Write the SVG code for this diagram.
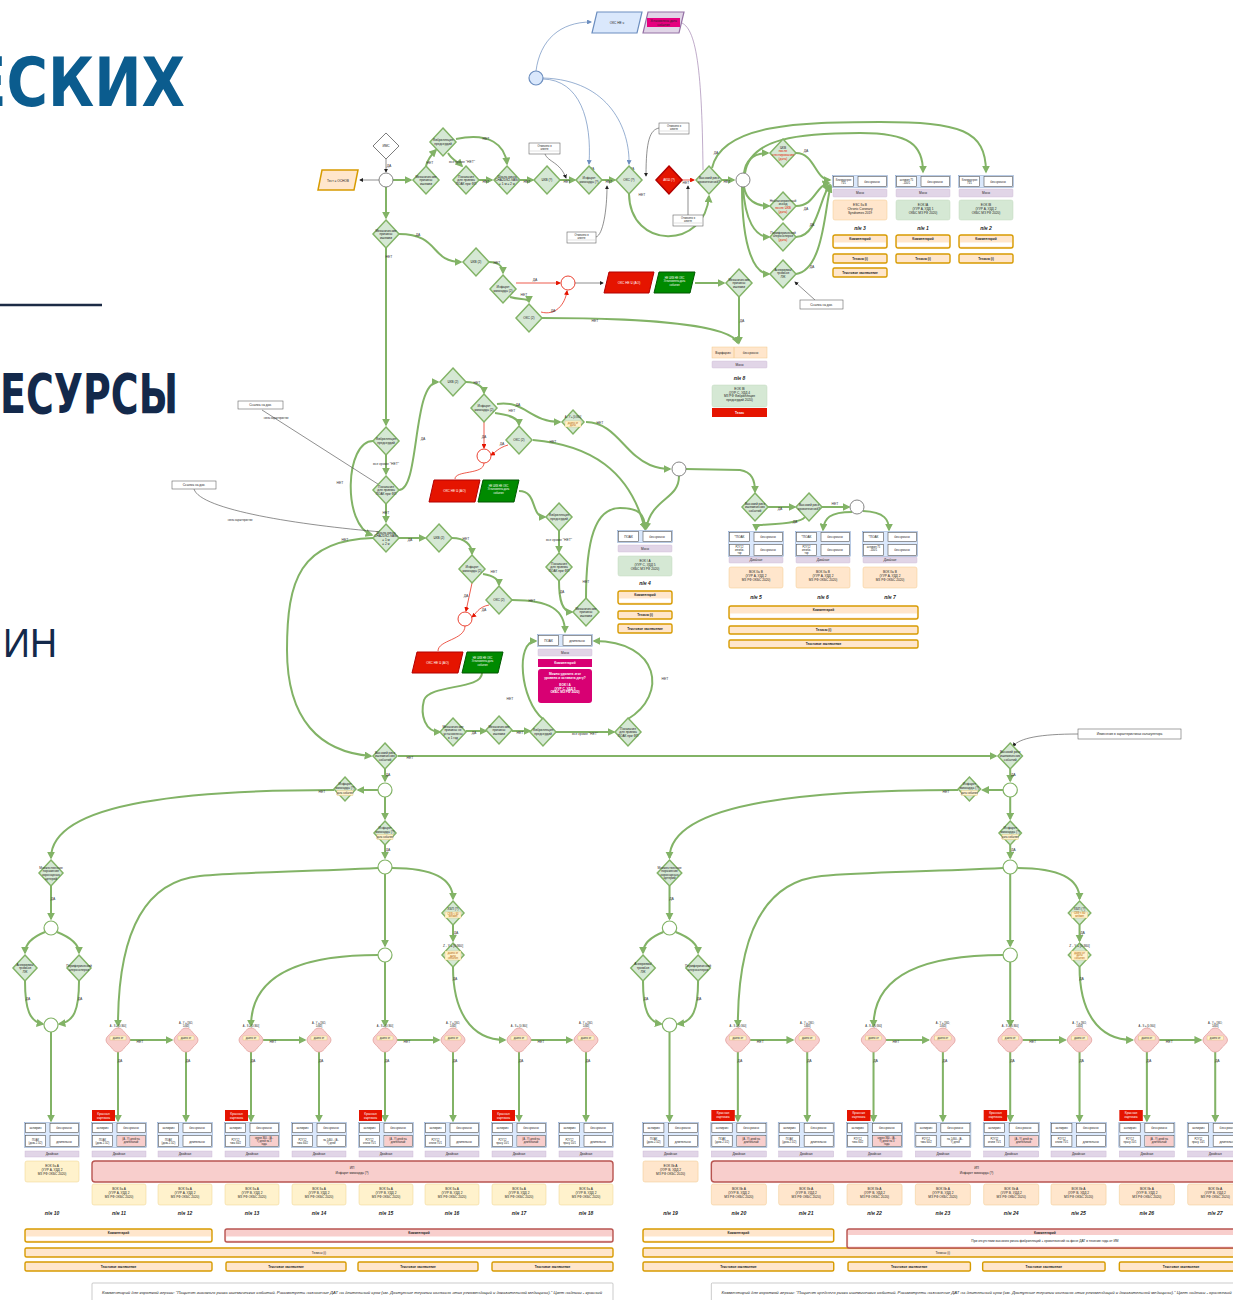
<svg xmlns="http://www.w3.org/2000/svg" xmlns:xlink="http://www.w3.org/1999/xlink" width="1233" height="1300" viewBox="0 0 1233 1300">
<style>
.e{fill:none;stroke:#82b366;stroke-width:2;marker-end:url(#ag)}
.k{fill:none;stroke:#444;stroke-width:0.6;marker-end:url(#ak)}
.r{fill:none;stroke:#e51400;stroke-width:0.7;marker-end:url(#ar)}
.rn{fill:none;stroke:#e51400;stroke-width:0.7}
.b{fill:none;stroke:#6c8ebf;stroke-width:0.7;marker-end:url(#ab)}
.d{fill:#d5e8d4;stroke:#82b366;stroke-width:1.5}
.dr{fill:#e51400;stroke:#b20000;stroke-width:1.5}
.dw{fill:#fff;stroke:#777;stroke-width:1}
.ci{fill:#fff;stroke:#777;stroke-width:0.9}
.cg{fill:#fff;stroke:#82b366;stroke-width:1.2}
.cr{fill:#fff;stroke:#e51400;stroke-width:0.8}
.pk{fill:#f8cecc;stroke:#e3a3a0;stroke-width:0.8;stroke-linejoin:round}
.t{font-family:"Liberation Sans",Arial,sans-serif;font-size:3.2px;fill:#222;text-anchor:middle}
.s{font-size:2.6px}
.w{fill:#fff}
.rd{fill:#e51400}
.bd{font-weight:bold}
.l{font-family:"Liberation Sans",Arial,sans-serif;font-size:3.4px;fill:#333;text-anchor:middle}
.pn{font-family:"Liberation Sans",Arial,sans-serif;font-size:5px;font-weight:bold;font-style:italic;fill:#222;text-anchor:middle}
.cell{fill:#fff;stroke:#555;stroke-width:0.6}
.hb{fill:#dae8fc;stroke:#6c8ebf;stroke-width:0.4}
.pu{fill:#e1d5e7;stroke:#c9b5d4;stroke-width:0.4}
.or{fill:#ffe6cc;stroke:#d79b00;stroke-width:1.4}
.orl{fill:#ffe6cc;stroke:#f2c98c;stroke-width:0.5}
.ye{fill:#fff2cc;stroke:#ecd08a;stroke-width:0.5}
.gr{fill:#d5e8d4;stroke:#c2dbbf;stroke-width:0.5}
.pb{fill:#f8cecc;stroke:#b85450;stroke-width:1.4}
.nt{fill:#fff;stroke:#666;stroke-width:0.6}
.yl{fill:#fff2cc;stroke:#d6b656;stroke-width:0.3}
</style>
<defs>
  <marker id="ag" viewBox="0 0 10 10" refX="8" refY="5" markerWidth="4" markerHeight="4" orient="auto"><path d="M0,0L10,5L0,10z" fill="#82b366"/></marker>
  <marker id="ak" viewBox="0 0 10 10" refX="8" refY="5" markerWidth="7" markerHeight="7" orient="auto"><path d="M0,0L10,5L0,10z" fill="#222"/></marker>
  <marker id="ar" viewBox="0 0 10 10" refX="8" refY="5" markerWidth="7" markerHeight="7" orient="auto"><path d="M0,0L10,5L0,10z" fill="#e51400"/></marker>
  <marker id="ab" viewBox="0 0 10 10" refX="8" refY="5" markerWidth="7" markerHeight="7" orient="auto"><path d="M0,0L10,5L0,10z" fill="#6c8ebf"/></marker>
  <polygon id="dm" points="0,-14 13,0 0,14 -13,0"/>
  <polygon id="dm2" points="0,-13 12,0 0,13 -12,0"/>
  <polygon id="dm3" points="0,-12 11,0 0,12 -11,0"/>
  <path id="pkd" d="M-12,0 C-12,-3 -9,-5 -7,-7 C-5,-10 -3,-12 0,-12 C3,-12 5,-10 7,-7 C9,-5 12,-3 12,0 C12,3 9,5 7,7 C5,10 3,12 0,12 C-3,12 -5,10 -7,7 C-9,5 -12,3 -12,0 z"/>
  <g id="hdr1">
    <rect class="hb" x="-0.5" y="-0.5" width="55" height="12"/>
    <rect class="cell" x="0.5" y="0.5" width="20" height="10"/>
    <rect class="cell" x="25" y="0.5" width="28.5" height="10"/>
  </g>
  <g id="hdr2">
    <rect class="hb" x="-0.5" y="-0.5" width="55" height="25"/>
    <rect class="cell" x="0.5" y="0.5" width="20" height="9"/>
    <rect class="cell" x="25" y="0.5" width="28.5" height="9"/>
    <rect class="cell" x="0.5" y="12.5" width="20" height="11"/>
    <rect class="cell" x="25" y="12.5" width="28.5" height="11"/>
  </g>
  <g id="cmt">
    <rect class="or" x="0" y="0" width="54" height="13" rx="2"/>
    <rect x="1.2" y="7.5" width="51.6" height="4" fill="#fff"/>
    <text class="t bd" x="27" y="5">Комментарий</text>
  </g>
</defs>

<!-- heading fragments -->
<g id="heading">
  <text x="-32" y="106" font-family="DejaVu Sans" font-weight="bold" font-size="67" fill="#0b5c8e" textLength="217" lengthAdjust="spacingAndGlyphs">ЕСКИХ</text>
  <line x1="0" y1="305" x2="102" y2="305" stroke="#1c2b45" stroke-width="2.5"/>
  <text x="0" y="413" font-family="DejaVu Sans" font-weight="bold" font-size="56" fill="#13294b" textLength="178" lengthAdjust="spacingAndGlyphs">ЕСУРСЫ</text>
  <text x="3" y="657" font-family="Liberation Sans" font-size="40" fill="#13294b" textLength="54" lengthAdjust="spacingAndGlyphs">ИН</text>
</g>

<!-- connectors of the upper flow -->
<g id="connectors">
  <path class="b" d="M536,71 C540,40 560,22 591,22"/>
  <path class="b" d="M543,79 C580,80 592,120 589,164"/>
  <path class="b" d="M543,78 C610,80 630,130 629,164"/>
  <path d="M679,22 C695,25 702,60 703,170" fill="none" stroke="#9673a6" stroke-width="0.6"/>
  <text class="l" x="592" y="170">ДА</text><text class="l" x="632" y="170">ДА</text>

  <path class="k" d="M386,159 L386,172"/><text class="l" x="389" y="167">ДА</text>
  <path class="k" d="M379,180 L360,180"/>
  <path class="e" d="M393,180 L411,180"/>
  <path class="e" d="M386,187 L386,218"/>
  <path class="e" d="M426,166 C428,158 432,154 436,150"/><text class="l" x="430" y="164">НЕТ</text>
  <path class="e" d="M456,139 C490,132 505,145 507,164"/><text class="l" x="486" y="140">НЕТ</text>
  <path class="e" d="M448,153 C452,160 458,162 462,166"/><text class="l" x="462" y="163">все кроме "НЕТ"</text>
  <path class="e" d="M479,180 L492,180"/><text class="l" x="486" y="183">НЕТ</text>
  <path class="e" d="M520,180 L533,180"/><text class="l" x="527" y="183">НЕТ</text>
  <path class="e" d="M560,180 L575,180"/><text class="l" x="567" y="183">НЕТ</text>
  <path class="e" d="M602,180 L615,180"/><text class="l" x="609" y="183">НЕТ</text>
  <path class="e" d="M629,194 C630,250 705,250 709,196"/><text class="l" x="642" y="196">НЕТ</text>
  <path class="r" d="M682,180 L694,180"/><text class="l" x="686" y="184">НЕТ</text>
  <path class="e" d="M722,180 L734,180"/><text class="l" x="727" y="183">НЕТ</text>
  <path class="e" d="M712,168 C722,124 800,122 880,122 C960,122 986,130 986,172"/><text class="l" x="716" y="154">ДА</text>
  <path class="e" d="M745,173 C750,138 800,133 860,133 C910,133 923,145 923,172"/>
  <path class="e" d="M744,173 C746,158 756,153 768,153"/>
  <path class="e" d="M744,187 C746,200 756,206 769,206"/>
  <path class="e" d="M743,187 C745,220 755,237 769,237"/>
  <path class="e" d="M742,187 C742,250 755,274 769,274"/>
  <path class="e" d="M796,153 C815,153 815,180 830,180"/><text class="l" x="806" y="152">ДА</text>
  <path class="e" d="M796,206 C815,206 815,186 829,183"/><text class="l" x="806" y="210">ДА</text>
  <path class="e" d="M796,237 C818,237 820,195 830,185"/><text class="l" x="812" y="226">ДА</text>
  <path class="e" d="M796,274 C825,270 825,200 831,186"/><text class="l" x="812" y="268">ДА</text>

  <!-- notes -->
  <path class="k" d="M545,154 C548,162 560,162 566,178"/>
  <path class="k" d="M659,128 C650,130 646,140 646,176"/>
  <path class="k" d="M596,237 C603,235 607,210 607,186"/>
  <path class="k" d="M688,215 L688,186"/>

  <path class="e" d="M399,234 C440,234 430,262 461,262"/><text class="l" x="418" y="236">ДА</text>
  <path class="e" d="M386,248 L386,425"/><text class="l" x="389" y="258">НЕТ</text>
  <path class="e" d="M489,262 C500,262 503,268 503,273"/><text class="l" x="497" y="264">НЕТ</text>
  <path class="r" d="M516,283 L560,283"/><text class="l" x="535" y="281">ДА</text>
  <path class="e" d="M510,297 C520,300 529,298 529,302"/><text class="l" x="524" y="296">НЕТ</text>
  <path class="r" d="M541,312 C555,316 565,305 567,291"/><text class="l" x="553" y="312">ДА</text>
  <path class="k" d="M575,283 L603,283"/>
  <path class="e" d="M695,283 L724,283"/>
  <path class="e" d="M739,297 L739,343"/><text class="l" x="742" y="322">ДА</text>
  <path class="e" d="M542,318 C650,318 730,325 738,343"/><text class="l" x="595" y="322">НЕТ</text>
  <path class="k" d="M815,300 L795,282"/>

  <path class="e" d="M386,455 L386,474"/><text class="l" x="386" y="465">все кроме "НЕТ"</text>
  <path class="e" d="M373,441 C345,441 342,525 372,535"/><text class="l" x="340" y="484">НЕТ</text>
  <path class="e" d="M399,490 C420,490 412,382 438,382"/><text class="l" x="423" y="440">ДА</text>
  <path class="e" d="M386,504 L386,522"/><text class="l" x="386" y="514">НЕТ</text>
  <path class="e" d="M466,382 C478,382 484,388 484,393"/><text class="l" x="477" y="384">НЕТ</text>
  <path class="e" d="M495,413 C510,415 519,418 519,425"/><text class="l" x="512" y="412">НЕТ</text>
  <path class="e" d="M497,404 C525,400 530,422 560,422"/><text class="l" x="518" y="406">ДА</text>
  <path class="r" d="M484,422 L484,448"/><text class="l" x="484" y="438">ДА</text>
  <path class="r" d="M508,445 C498,448 496,452 491,455"/><text class="l" x="502" y="445">ДА</text>
  <path class="rn" d="M484,463 C484,475 455,470 455,479"/>
  <path class="e" d="M519,491 C538,491 530,517 545,517"/>
  <path class="e" d="M559,531 L559,552"/><text class="l" x="559" y="541">все кроме "НЕТ"</text>
  <path class="e" d="M559,581 C559,600 562,612 572,612"/><text class="l" x="562" y="593">ДА</text>
  <path class="e" d="M586,599 C586,540 595,508 620,508 C640,508 645,515 645,529"/><text class="l" x="586" y="583">НЕТ</text>
  <path class="e" d="M533,440 C590,445 630,470 645,529"/><text class="l" x="553" y="443">НЕТ</text>
  <path class="e" d="M586,422 C615,422 625,455 650,465 C660,469 665,469 670,469"/><text class="l" x="600" y="424">НЕТ</text>
  <path class="e" d="M679,476 C679,500 652,497 646,529"/>
  <path class="e" d="M686,469 L740,470 C752,472 755,480 755,492"/>
  <path class="e" d="M768,507 L795,507"/><text class="l" x="780" y="510">ДА</text>
  <path class="e" d="M822,507 L849,507"/><text class="l" x="835" y="505">НЕТ</text>
  <path class="e" d="M805,517 C800,524 770,524 760,525 C757,526 756,528 756,530"/><text class="l" x="795" y="523">ДА</text>
  <path class="e" d="M852,512 C830,512 824,518 823,530"/>
  <path class="e" d="M863,511 C885,512 889,520 889,530"/>

  <path class="e" d="M399,538 L425,538"/><text class="l" x="410" y="541">ДА</text>
  <path class="e" d="M452,538 C465,538 472,545 472,554"/><text class="l" x="466" y="540">НЕТ</text>
  <path class="e" d="M483,574 C495,576 499,580 499,585"/><text class="l" x="494" y="573">НЕТ</text>
  <path class="r" d="M472,583 L466,611"/><text class="l" x="466" y="597">ДА</text>
  <path class="r" d="M489,605 C478,607 476,614 472,617"/><text class="l" x="484" y="611">ДА</text>
  <path class="rn" d="M465,626 C465,640 438,640 438,651"/>
  <path class="e" d="M512,600 C550,600 565,610 565,632"/><text class="l" x="532" y="602">НЕТ</text>
  <path class="e" d="M482,673 C482,690 430,684 424,700 C420,715 425,732 440,732"/>
  <path class="e" d="M466,731 L486,731"/><text class="l" x="474" y="734">ДА</text>
  <path class="e" d="M512,731 L530,731"/><text class="l" x="520" y="734">НЕТ</text>
  <path class="e" d="M556,732 L614,732"/><text class="l" x="585" y="735">все кроме "НЕТ"</text>
  <path class="e" d="M543,719 C520,700 515,641 536,641"/><text class="l" x="510" y="700">НЕТ</text>
  <path class="e" d="M628,719 C668,695 660,641 594,641"/><text class="l" x="665" y="680">НЕТ</text>
  <path class="e" d="M373,538 C300,540 287,580 287,650 C287,720 320,752 371,756"/><text class="l" x="345" y="541">НЕТ</text>
  <path class="k" d="M262,410 L381,486"/>
  <path class="k" d="M194,489 C200,510 300,525 382,532"/>

  <path class="e" d="M398,756 L996,756"/><text class="l" x="410" y="759">НЕТ</text>
  <path class="k" d="M1078,734 C1040,734 1020,738 1013,746"/>
</g>

<!-- upper flow nodes -->
<g id="n-ims"><use href="#dm" class="dw" x="386" y="146" transform="translate(386,146) scale(1,0.93) translate(-386,-146)"/><text class="t" x="386" y="147">ИМС</text></g>
<g id="n-c0"><circle class="ci" cx="386" cy="180" r="7"/></g>
<g id="n-test"><polygon points="322,170 358,170 354,190 318,190" fill="#ffe6cc" stroke="#d79b00" stroke-width="1.5"/><text class="t" x="338" y="181.5">Тест = ОСНОВ</text></g>
<g id="n-okc"><polygon points="597,12 642,12 637,33 592,33" fill="#dae8fc" stroke="#6c8ebf" stroke-width="1.2"/><text class="t" x="617" y="23.5">ОКС НЕ ч</text></g>
<g id="n-date"><polygon points="648,12 684,12 679,33 643,33" fill="#e1d5e7" stroke="#9673a6" stroke-width="1.2"/><rect x="647" y="18" width="33" height="9" fill="#e6007e"/><text class="t" x="663.5" y="21.5">Установлена дата</text><text class="t" x="663.5" y="25.5">события</text></g>
<g id="n-bc"><circle cx="536" cy="78" r="7" fill="#dae8fc" stroke="#6c8ebf" stroke-width="1.2"/></g>

<g id="n-d1"><use href="#dm" class="d" x="426" y="180"/><text class="t"><tspan x="426" y="177.5">Механические</tspan><tspan x="426" y="181.1">причины</tspan><tspan x="426" y="184.7">ишемии</tspan></text></g>
<g id="n-d2"><use href="#dm" class="d" x="443" y="142"/><text class="t"><tspan x="443" y="141.3">Фибрилляция</tspan><tspan x="443" y="144.9">предсердий</tspan></text></g>
<g id="n-d3"><use href="#dm" class="d" x="466" y="180"/><text class="t"><tspan x="466" y="177.5">Показания</tspan><tspan x="466" y="181.1">для приема</tspan><tspan x="466" y="184.7">ПОАК при ФП</tspan></text></g>
<g id="n-d4"><use href="#dm" class="d" x="507" y="180"/><text class="t"><tspan x="507" y="177.5">Шкала риска</tspan><tspan x="507" y="181.1">CHA2DS2-VASc</tspan><tspan x="507" y="184.7">≥ 1 м ≥ 2 ж</tspan></text></g>
<g id="n-d5"><use href="#dm" class="d" x="547" y="180"/><text class="t" x="547" y="181.1">ЧКВ (?)</text></g>
<g id="n-d6"><use href="#dm" class="d" x="589" y="180"/><text class="t"><tspan x="589" y="179.3">Инфаркт</tspan><tspan x="589" y="182.9">миокарда (?)</tspan></text></g>
<g id="n-d7"><use href="#dm" class="d" x="629" y="180"/><text class="t" x="629" y="181.1">ОКС (?)</text></g>
<g id="n-d8"><use href="#dm" class="dr" x="669" y="180"/><text class="t w" x="669" y="181.1">АКШ (?)</text></g>
<g id="n-d9"><use href="#dm" class="d" x="709" y="180"/><text class="t"><tspan x="709" y="179.3">Высокий риск</tspan><tspan x="709" y="182.9">кровотечений?</tspan></text></g>
<g id="n-c1"><circle class="ci" cx="743" cy="180" r="7"/></g>
<g id="n-d10"><use href="#dm" class="d" x="783" y="153"/><text class="t"><tspan x="783" y="148.7">ЧКВ</tspan><tspan x="783" y="152.3" class="rd">после</tspan><tspan x="783" y="155.9" class="rd">стентирования</tspan><tspan x="783" y="159.5" class="rd">(дата)</tspan></text></g>
<g id="n-d11"><use href="#dm" class="d" x="783" y="206"/><text class="t"><tspan x="783" y="201.7">Неблагоприятный</tspan><tspan x="783" y="205.3">исход</tspan><tspan x="783" y="208.9" class="rd">после ЧКВ</tspan><tspan x="783" y="212.5" class="rd">(дата)</tspan></text></g>
<g id="n-d12"><use href="#dm" class="d" x="783" y="237"/><text class="t"><tspan x="783" y="233.5">Периферический</tspan><tspan x="783" y="237.1">атеросклероз</tspan><tspan x="783" y="240.7" class="rd">(дата)</tspan></text></g>
<g id="n-d13"><use href="#dm" class="d" x="783" y="274"/><text class="t"><tspan x="783" y="270.5">Аневризма/</tspan><tspan x="783" y="274.1">тромбоз</tspan><tspan x="783" y="277.7">ЛЖ</tspan></text></g>

<g id="n-note1"><rect class="nt" x="529" y="143" width="31" height="11"/><line x1="530" y1="151" x2="559" y2="151" stroke="#999" stroke-width="0.3"/><text class="t s"><tspan x="544.5" y="146.5">Отмечено в</tspan><tspan x="544.5" y="149.5">анкете</tspan></text></g>
<g id="n-note2"><rect class="nt" x="659" y="123" width="30" height="11"/><line x1="660" y1="131" x2="688" y2="131" stroke="#999" stroke-width="0.3"/><text class="t s"><tspan x="674" y="126.5">Отмечено в</tspan><tspan x="674" y="129.5">анкете</tspan></text></g>
<g id="n-note3"><rect class="nt" x="567" y="232" width="29" height="11"/><line x1="568" y1="240" x2="595" y2="240" stroke="#999" stroke-width="0.3"/><text class="t s"><tspan x="581.5" y="235.5">Отмечено в</tspan><tspan x="581.5" y="238.5">анкете</tspan></text></g>
<g id="n-note4"><rect class="nt" x="673" y="215" width="30" height="11"/><line x1="674" y1="223" x2="702" y2="223" stroke="#999" stroke-width="0.3"/><text class="t s"><tspan x="688" y="218.5">Отмечено в</tspan><tspan x="688" y="221.5">анкете</tspan></text></g>

<!-- therapy blocks, upper right -->
<g id="n-b3">
  <use href="#hdr1" x="833" y="176"/>
  <text class="t s"><tspan x="843.5" y="180.5">Клопидогрел</tspan><tspan x="843.5" y="183.5">75/1</tspan></text>
  <text class="t" x="872" y="183">бессрочно</text>
  <rect class="pu" x="833" y="189" width="54" height="8" rx="1"/><text class="t" x="860" y="194.2">Моно</text>
  <rect class="orl" x="833" y="200" width="54" height="20" rx="2"/>
  <text class="t"><tspan x="860" y="206">ESC IIa B</tspan><tspan x="860" y="210">Chronic Coronary</tspan><tspan x="860" y="214">Syndromes 2019</tspan></text>
  <text class="pn" x="860" y="230">п/н 3</text>
  <use href="#cmt" x="833" y="235"/>
  <rect class="or" x="833" y="254" width="54" height="9" rx="1.5"/><text class="t bd" x="860" y="259.6">Тезисы (i)</text>
  <rect class="or" x="833" y="268" width="54" height="9" rx="1.5"/><text class="t bd" x="860" y="273.6">Текстовое заключение</text>
</g>
<g id="n-b1">
  <use href="#hdr1" x="896" y="176"/>
  <text class="t s"><tspan x="906.5" y="180.5">аспирин 75</tspan><tspan x="906.5" y="183.5">-100/1</tspan></text>
  <text class="t" x="935" y="183">бессрочно</text>
  <rect class="pu" x="896" y="189" width="54" height="8" rx="1"/><text class="t" x="923" y="194.2">Моно</text>
  <rect class="gr" x="896" y="200" width="54" height="20" rx="2"/>
  <text class="t"><tspan x="923" y="206">ЕОК IA</tspan><tspan x="923" y="210">(УУР А, УДД 1</tspan><tspan x="923" y="214">ОКБС МЗ РФ 2020)</tspan></text>
  <text class="pn" x="923" y="230">п/н 1</text>
  <use href="#cmt" x="896" y="235"/>
  <rect class="or" x="896" y="254" width="54" height="9" rx="1.5"/><text class="t bd" x="923" y="259.6">Тезисы (i)</text>
</g>
<g id="n-b2">
  <use href="#hdr1" x="959" y="176"/>
  <text class="t s"><tspan x="969.5" y="180.5">Клопидогрел</tspan><tspan x="969.5" y="183.5">75/1</tspan></text>
  <text class="t" x="998" y="183">бессрочно</text>
  <rect class="pu" x="959" y="189" width="54" height="8" rx="1"/><text class="t" x="986" y="194.2">Моно</text>
  <rect class="gr" x="959" y="200" width="54" height="20" rx="2"/>
  <text class="t"><tspan x="986" y="206">ЕОК IB</tspan><tspan x="986" y="210">(УУР А, УДД 2</tspan><tspan x="986" y="214">ОКБС МЗ РФ 2020)</tspan></text>
  <text class="pn" x="986" y="230">п/н 2</text>
  <use href="#cmt" x="959" y="235"/>
  <rect class="or" x="959" y="254" width="54" height="9" rx="1.5"/><text class="t bd" x="986" y="259.6">Тезисы (i)</text>
</g>
<g id="n-note5"><rect class="nt" x="800" y="300" width="43" height="9"/><text class="t" x="821.5" y="305.6">Ссылка на док.</text></g>

<!-- second branch of upper flow -->
<g id="n-d14"><use href="#dm" class="d" x="386" y="234"/><text class="t"><tspan x="386" y="231.5">Механические</tspan><tspan x="386" y="235.1">причины</tspan><tspan x="386" y="238.7">ишемии</tspan></text></g>
<g id="n-d15"><use href="#dm" class="d" x="476" y="262"/><text class="t" x="476" y="263.1">ЧКВ (2)</text></g>
<g id="n-d16"><use href="#dm" class="d" x="503" y="289"/><text class="t"><tspan x="503" y="288.3">Инфаркт</tspan><tspan x="503" y="291.9">миокарда (2)</tspan></text></g>
<g id="n-d17"><use href="#dm" class="d" x="529" y="318"/><text class="t" x="529" y="319.1">ОКС (2)</text></g>
<g id="n-rc1"><circle class="cr" cx="568" cy="283" r="7"/></g>
<g id="n-pr1"><polygon points="609,272 654,272 649,293 604,293" fill="#e51400" stroke="#b20000" stroke-width="1"/><text class="t w" x="629" y="284">ОКС НЕ Ч (АО)</text></g>
<g id="n-pg1"><polygon points="659,272 695,272 690,293 654,293" fill="#008a00" stroke="#005700" stroke-width="1"/><text class="t w s"><tspan x="674.5" y="278.5">НЕ ЧКВ НЕ ОКС</tspan><tspan x="674.5" y="282">Установлена дата</tspan><tspan x="674.5" y="285.5">события</tspan></text></g>
<g id="n-d18"><use href="#dm" class="d" x="739" y="283"/><text class="t"><tspan x="739" y="280.5">Механические</tspan><tspan x="739" y="284.1">причины</tspan><tspan x="739" y="287.7">ишемии</tspan></text></g>
<g id="n-b8">
  <rect class="orl" x="712" y="347" width="55" height="11"/>
  <line x1="734" y1="347" x2="734" y2="358" stroke="#f2c98c" stroke-width="0.8"/>
  <text class="t" x="723" y="353.6">Варфарин</text><text class="t" x="750.5" y="353.6">бессрочно</text>
  <rect class="pu" x="712" y="361" width="55" height="7" rx="1"/><text class="t" x="739.5" y="365.6">Моно</text>
  <text class="pn" x="739.5" y="380">п/н 8</text>
  <rect class="gr" x="712" y="385" width="55" height="22" rx="2"/>
  <text class="t"><tspan x="739.5" y="390">ЕОК IB</tspan><tspan x="739.5" y="393.6">(УУР С, УДД 4</tspan><tspan x="739.5" y="397.2">МЗ РФ Фибрилляция</tspan><tspan x="739.5" y="400.8">предсердий 2020)</tspan></text>
  <rect x="712" y="408" width="55" height="9" fill="#e51400"/><text class="t w bd" x="739.5" y="413.6">Тезис</text>
</g>

<!-- middle flow -->
<g id="n-d19"><use href="#dm" class="d" x="386" y="441"/><text class="t"><tspan x="386" y="440.3">Фибрилляция</tspan><tspan x="386" y="443.9">предсердий</tspan></text></g>
<g id="n-d20"><use href="#dm" class="d" x="386" y="490"/><text class="t"><tspan x="386" y="487.5">Показания</tspan><tspan x="386" y="491.1">для приема</tspan><tspan x="386" y="494.7">ПОАК при ФП</tspan></text></g>
<g id="n-d21"><use href="#dm" class="d" x="386" y="538"/><text class="t"><tspan x="386" y="533.7">Шкала риска</tspan><tspan x="386" y="537.3">CHA2DS2-VASc</tspan><tspan x="386" y="540.9">≥ 1 м</tspan><tspan x="386" y="544.5">≥ 2 ж</tspan></text></g>
<g id="n-d22"><use href="#dm" class="d" x="453" y="382"/><text class="t" x="453" y="383.1">ЧКВ (2)</text></g>
<g id="n-d23"><use href="#dm" class="d" x="484" y="408"/><text class="t"><tspan x="484" y="407.3">Инфаркт</tspan><tspan x="484" y="410.9">миокарда (2)</tspan></text></g>
<g id="n-d24"><use href="#dm" class="d" x="519" y="440"/><text class="t" x="519" y="441.1">ОКС (2)</text></g>
<g id="n-d25"><use href="#dm3" class="d" x="573" y="422"/><text class="t s"><tspan x="573" y="418">A - Y ≥ [0;360]</tspan></text><rect class="yl" x="565" y="421" width="16" height="6"/><text class="t s"><tspan x="573" y="423.5" fill="#b46504">давно от</tspan><tspan x="573" y="426" fill="#b46504">даты</tspan></text></g>
<g id="n-rc2"><circle class="cr" cx="484" cy="456" r="7"/></g>
<g id="n-pr2"><polygon points="434,480 480,480 475,502 429,502" fill="#e51400" stroke="#b20000" stroke-width="1"/><text class="t w" x="454.5" y="492">ОКС НЕ Ч (АО)</text></g>
<g id="n-pg2"><polygon points="483,480 519,480 514,502 478,502" fill="#008a00" stroke="#005700" stroke-width="1"/><text class="t w s"><tspan x="498.5" y="486.5">НЕ ЧКВ НЕ ОКС</tspan><tspan x="498.5" y="490">Установлена дата</tspan><tspan x="498.5" y="493.5">события</tspan></text></g>
<g id="n-d26"><use href="#dm" class="d" x="559" y="517"/><text class="t"><tspan x="559" y="516.3">Фибрилляция</tspan><tspan x="559" y="519.9">предсердий</tspan></text></g>
<g id="n-d27"><use href="#dm" class="d" x="559" y="567"/><text class="t"><tspan x="559" y="564.5">Показания</tspan><tspan x="559" y="568.1">для приема</tspan><tspan x="559" y="571.7">ПОАК при ФП</tspan></text></g>
<g id="n-d28"><use href="#dm" class="d" x="586" y="612"/><text class="t"><tspan x="586" y="609.5">Механические</tspan><tspan x="586" y="613.1">причины</tspan><tspan x="586" y="616.7">ишемии</tspan></text></g>
<g id="n-d29"><use href="#dm" class="d" x="439" y="538"/><text class="t" x="439" y="539.1">ЧКВ (2)</text></g>
<g id="n-d30"><use href="#dm" class="d" x="472" y="569"/><text class="t"><tspan x="472" y="568.3">Инфаркт</tspan><tspan x="472" y="571.9">миокарда (2)</tspan></text></g>
<g id="n-d31"><use href="#dm" class="d" x="499" y="600"/><text class="t" x="499" y="601.1">ОКС (2)</text></g>
<g id="n-rc3"><circle class="cr" cx="465" cy="619" r="7"/></g>
<g id="n-pr3"><polygon points="417,652 463,652 458,673 412,673" fill="#e51400" stroke="#b20000" stroke-width="1"/><text class="t w" x="437.5" y="663.5">ОКС НЕ Ч (АО)</text></g>
<g id="n-pg3"><polygon points="467,652 503,652 498,673 462,673" fill="#008a00" stroke="#005700" stroke-width="1"/><text class="t w s"><tspan x="482.5" y="658.5">НЕ ЧКВ НЕ ОКС</tspan><tspan x="482.5" y="662">Установлена дата</tspan><tspan x="482.5" y="665.5">события</tspan></text></g>
<g id="n-d32"><use href="#dm" class="d" x="453" y="732"/><text class="t"><tspan x="453" y="727.7">Механические</tspan><tspan x="453" y="731.3">причины не</tspan><tspan x="453" y="734.9">установлены</tspan><tspan x="453" y="738.5">в 1 год</tspan></text></g>
<g id="n-d33"><use href="#dm" class="d" x="499" y="730"/><text class="t"><tspan x="499" y="727.5">Механические</tspan><tspan x="499" y="731.1">причины</tspan><tspan x="499" y="734.7">ишемии</tspan></text></g>
<g id="n-d34"><use href="#dm" class="d" x="543" y="732"/><text class="t"><tspan x="543" y="731.3">Фибрилляция</tspan><tspan x="543" y="734.9">предсердий</tspan></text></g>
<g id="n-d35"><use href="#dm" class="d" x="628" y="732"/><text class="t"><tspan x="628" y="729.5">Показания</tspan><tspan x="628" y="733.1">для приема</tspan><tspan x="628" y="736.7">ПОАК при ФП</tspan></text></g>
<g id="n-c2"><circle class="ci" cx="679" cy="469" r="7"/></g>
<g id="n-d36"><use href="#dm" class="d" x="755" y="507"/><text class="t"><tspan x="755" y="504.5">Высокий риск</tspan><tspan x="755" y="508.1">ишемических</tspan><tspan x="755" y="511.7">событий</tspan></text></g>
<g id="n-d37"><use href="#dm" class="d" x="809" y="507"/><text class="t"><tspan x="809" y="506.3">Высокий риск</tspan><tspan x="809" y="509.9">кровотечений?</tspan></text></g>
<g id="n-c3"><circle class="ci" cx="857" cy="507" r="7"/></g>
<g id="n-note6"><rect class="nt" x="238" y="401" width="45" height="8"/><text class="t" x="260.5" y="406.2">Ссылка на док.</text><text class="t s" x="276" y="419">связь характеристик</text></g>
<g id="n-note7"><rect class="nt" x="172" y="481" width="44" height="8"/><text class="t" x="194" y="486.2">Ссылка на док.</text><text class="t s" x="240" y="521">связь характеристик</text></g>

<g id="n-b4">
  <use href="#hdr1" x="618" y="531"/>
  <text class="t" x="628.5" y="537.6">ПОАК</text><text class="t" x="657" y="537.6">бессрочно</text>
  <rect class="pu" x="618" y="545" width="54" height="7" rx="1"/><text class="t" x="645" y="549.6">Моно</text>
  <rect class="gr" x="618" y="556" width="54" height="20" rx="2"/>
  <text class="t"><tspan x="645" y="562">ЕОК I A</tspan><tspan x="645" y="566">(УУР С, УДД 5</tspan><tspan x="645" y="570">ОКБС МЗ РФ 2020)</tspan></text>
  <text class="pn" x="645" y="585">п/н 4</text>
  <use href="#cmt" x="618" y="591"/>
  <rect class="or" x="618" y="611" width="54" height="8" rx="1.5"/><text class="t bd" x="645" y="616.2">Тезисы (i)</text>
  <rect class="or" x="618" y="624" width="54" height="9" rx="1.5"/><text class="t bd" x="645" y="629.6">Текстовое заключение</text>
</g>
<g id="n-b5">
  <use href="#hdr2" x="729" y="532"/>
  <text class="t" x="739.5" y="537.6">*ПОАК</text><text class="t" x="768" y="537.6">бессрочно</text>
  <text class="t s"><tspan x="739.5" y="547.5">P2Y12</tspan><tspan x="739.5" y="550.5">ингиби-</tspan><tspan x="739.5" y="553.5">тор</tspan></text><text class="t" x="768" y="551">бессрочно</text>
  <rect class="pu" x="729" y="557" width="54" height="6" rx="1"/><text class="t" x="756" y="561.2" font-style="italic">Двойная</text>
  <rect class="orl" x="729" y="567" width="54" height="21" rx="2"/>
  <text class="t"><tspan x="756" y="573">ВОК IIa B</tspan><tspan x="756" y="577">(УУР А, УДД 2</tspan><tspan x="756" y="581">МЗ РФ ОКБС 2020)</tspan></text>
  <text class="pn" x="756" y="599">п/н 5</text>
</g>
<g id="n-b6">
  <use href="#hdr2" x="796" y="532"/>
  <text class="t" x="806.5" y="537.6">*ПОАК</text><text class="t" x="835" y="537.6">бессрочно</text>
  <text class="t s"><tspan x="806.5" y="547.5">P2Y12</tspan><tspan x="806.5" y="550.5">ингиби-</tspan><tspan x="806.5" y="553.5">тор</tspan></text><text class="t" x="835" y="551">бессрочно</text>
  <rect class="pu" x="796" y="557" width="54" height="6" rx="1"/><text class="t" x="823" y="561.2" font-style="italic">Двойная</text>
  <rect class="orl" x="796" y="567" width="54" height="21" rx="2"/>
  <text class="t"><tspan x="823" y="573">ВОК IIa B</tspan><tspan x="823" y="577">(УУР А, УДД 2</tspan><tspan x="823" y="581">МЗ РФ ОКБС 2020)</tspan></text>
  <text class="pn" x="823" y="599">п/н 6</text>
</g>
<g id="n-b7">
  <use href="#hdr2" x="863" y="532"/>
  <text class="t" x="873.5" y="537.6">*ПОАК</text><text class="t" x="902" y="537.6">бессрочно</text>
  <text class="t s"><tspan x="873.5" y="548">аспирин 75</tspan><tspan x="873.5" y="551">-100/1</tspan></text><text class="t" x="902" y="551">бессрочно</text>
  <rect class="pu" x="863" y="557" width="54" height="6" rx="1"/><text class="t" x="890" y="561.2" font-style="italic">Двойная</text>
  <rect class="orl" x="863" y="567" width="54" height="21" rx="2"/>
  <text class="t"><tspan x="890" y="573">ВОК IIa B</tspan><tspan x="890" y="577">(УУР А, УДД 2</tspan><tspan x="890" y="581">МЗ РФ ОКБС 2020)</tspan></text>
  <text class="pn" x="890" y="599">п/н 7</text>
</g>
<g id="n-b567-notes">
  <rect class="or" x="729" y="606" width="189" height="13" rx="2"/><rect x="730.2" y="613.5" width="186.6" height="4" fill="#fff"/><text class="t bd" x="823.5" y="611">Комментарий</text>
  <rect class="or" x="729" y="626" width="189" height="8" rx="1.5"/><text class="t bd" x="823.5" y="631.2">Тезисы (i)</text>
  <rect class="or" x="729" y="640" width="189" height="8" rx="1.5"/><text class="t bd" x="823.5" y="645.2">Текстовое заключение</text>
</g>
<g id="n-bpk">
  <use href="#hdr1" x="538" y="635"/>
  <text class="t" x="548.5" y="641.6">ПОАК</text><text class="t" x="577" y="641.6">длительно</text>
  <rect class="pu" x="538" y="649" width="54" height="7" rx="1"/><text class="t" x="565" y="653.6">Моно</text>
  <rect x="538" y="659" width="54" height="8" fill="#d80073"/><text class="t w bd" x="565" y="664.2">Комментарий</text>
  <rect x="538" y="669" width="54" height="34" rx="3" fill="#d80073"/>
  <text class="t w bd"><tspan x="565" y="675">Можно удалить этот</tspan><tspan x="565" y="678.6">уровень и оставить дату?</tspan><tspan x="565" y="686">ЕОК I A</tspan><tspan x="565" y="689.6">(УУР С, УДД 5</tspan><tspan x="565" y="693.2">ОКБС МЗ РФ 2020)</tspan></text>
</g>
<g id="n-note8"><rect class="nt" x="1078" y="729" width="103" height="10"/><text class="t" x="1129.5" y="735.3">Изменение в характеристиках калькулятора</text></g>

<!-- lower section: shared layout of both risk branches -->
<g id="lower-common">
  <g id="lower-connectors">
    <path class="e" d="M385,769 L385,781"/><text class="l" x="388" y="776">ДА</text>
    <path class="e" d="M378,790 L358,790"/>
    <path class="e" d="M334,790 C200,790 51,800 51,858"/><text class="l" x="322" y="793">НЕТ</text>
    <path class="e" d="M385,797 L385,819"/>
    <path class="e" d="M385,845 L385,858"/><text class="l" x="388" y="851">ДА</text>
    <path class="e" d="M378,868 C300,872 240,872 200,876 C140,882 118,940 118,1026"/>
    <path class="e" d="M385,874 L385,946"/>
    <path class="e" d="M392,868 C435,868 453,880 453,899"/>
    <path class="e" d="M453,925 L453,941"/><text class="l" x="456" y="934">ДА</text>
    <path class="e" d="M453,967 C453,1010 470,1040 505,1040"/><text class="l" x="455" y="980">ДА</text>
    <path class="e" d="M378,955 C300,955 251,975 251,1026"/>
    <path class="e" d="M385,962 L385,1026"/>
    <path class="e" d="M51,886 L51,919"/><text class="l" x="53" y="900">ДА</text>
    <path class="e" d="M45,932 C30,938 25,945 25,953"/>
    <path class="e" d="M57,932 C72,938 79,945 79,953"/>
    <path class="e" d="M25,981 C25,1010 30,1022 43,1024"/><text class="l" x="28" y="1000">ДА</text>
    <path class="e" d="M79,981 C79,1010 74,1022 59,1024"/><text class="l" x="80" y="1000">ДА</text>
    <path class="e" d="M51,1032 L51,1121"/>
    <path class="e" d="M130,1040 L172,1040"/><text class="l" x="140" y="1043">НЕТ</text>
    <path class="e" d="M263,1040 L305,1040"/><text class="l" x="273" y="1043">НЕТ</text>
    <path class="e" d="M397,1040 L439,1040"/><text class="l" x="407" y="1043">НЕТ</text>
    <path class="e" d="M531,1040 L572,1040"/><text class="l" x="541" y="1043">НЕТ</text>
    <path class="e" d="M118,1052 L118,1121"/><text class="l" x="120" y="1062">ДА</text>
    <path class="e" d="M186,1052 L186,1121"/><text class="l" x="188" y="1062">ДА</text>
    <path class="e" d="M251,1052 L251,1121"/><text class="l" x="253" y="1062">ДА</text>
    <path class="e" d="M319,1052 L319,1121"/><text class="l" x="321" y="1062">ДА</text>
    <path class="e" d="M385,1052 L385,1121"/><text class="l" x="387" y="1062">ДА</text>
    <path class="e" d="M453,1052 L453,1121"/><text class="l" x="455" y="1062">ДА</text>
    <path class="e" d="M519,1052 L519,1121"/><text class="l" x="521" y="1062">ДА</text>
    <path class="e" d="M586,1052 L586,1121"/><text class="l" x="588" y="1062">ДА</text>
  </g>
  <g id="n-lr"><use href="#dm2" class="d" x="385" y="756"/><text class="t"><tspan x="385" y="753.5">Высокий риск</tspan><tspan x="385" y="757.1">ишемических</tspan><tspan x="385" y="760.7">событий</tspan></text></g>
  <g id="n-lc1"><circle class="cg" cx="385" cy="790" r="7"/></g>
  <g id="n-lim1"><use href="#dm3" class="d" x="345" y="789"/><text class="t"><tspan x="345" y="785">Инфаркт</tspan><tspan x="345" y="788.6">миокарда (?)</tspan></text><rect class="yl" x="337" y="790.5" width="16" height="5"/><text class="t s" x="345" y="794" fill="#b46504">дата события</text></g>
  <g id="n-lim2"><use href="#dm3" class="d" x="385" y="833"/><text class="t"><tspan x="385" y="829">Инфаркт</tspan><tspan x="385" y="832.6">миокарда (?)</tspan></text><rect class="yl" x="377" y="834.5" width="16" height="5"/><text class="t s" x="385" y="838" fill="#b46504">дата события</text></g>
  <g id="n-lc2"><circle class="cg" cx="385" cy="867" r="7"/></g>
  <g id="n-lc3"><circle class="cg" cx="385" cy="955" r="7"/></g>
  <g id="n-lmv"><use href="#dm2" class="d" x="51" y="873"/><text class="t"><tspan x="51" y="868.7">Множественное</tspan><tspan x="51" y="872.3">поражение</tspan><tspan x="51" y="875.9">коронарных</tspan><tspan x="51" y="879.5">артерий</tspan></text></g>
  <g id="n-lc4"><circle class="cg" cx="51" cy="928" r="7"/></g>
  <g id="n-lan"><use href="#dm2" class="d" x="25" y="968"/><text class="t"><tspan x="25" y="965.5">Аневризма/</tspan><tspan x="25" y="969.1">тромбоз</tspan><tspan x="25" y="972.7">ЛЖ</tspan></text></g>
  <g id="n-lpa"><use href="#dm2" class="d" x="79" y="968"/><text class="t"><tspan x="79" y="967.3">Периферический</tspan><tspan x="79" y="970.9">атеросклероз</tspan></text></g>
  <g id="n-lc5"><circle class="cg" cx="51" cy="1025" r="7"/></g>
  <g id="n-lckd"><use href="#dm3" class="d" x="453" y="913"/><text class="t" x="453" y="910">ХБП (?)</text><rect class="yl" x="445" y="912" width="16" height="6"/><text class="t s"><tspan x="453" y="914.5" fill="#b46504">СКФ &lt; 60</tspan><tspan x="453" y="917" fill="#b46504">мл/мин</tspan></text></g>
  <g id="n-lzy"><use href="#dm3" class="d" x="453" y="955"/><text class="t" x="453" y="947">Z - Y ≥ [0;360]</text><rect class="yl" x="445" y="951" width="16" height="9"/><text class="t s"><tspan x="453" y="954" fill="#b46504">давно от</tspan><tspan x="453" y="956.5" fill="#b46504">даты</tspan><tspan x="453" y="959" fill="#b46504">события</tspan></text></g>

  <g id="n-pk11"><text class="t s" x="118" y="1027">A - S ≥ [0;360]</text><use href="#pkd" class="pk" x="118" y="1040"/><rect class="yl" x="110" y="1036" width="16" height="4"/><text class="t s" x="118" y="1039" fill="#b46504">давно от</text></g>
  <g id="n-pk12"><text class="t s"><tspan x="186" y="1024">A - Y ≥ [361;</tspan><tspan x="186" y="1027">1460]</tspan></text><use href="#pkd" class="pk" x="186" y="1040"/><rect class="yl" x="178" y="1036" width="16" height="4"/><text class="t s" x="186" y="1039" fill="#b46504">давно от</text></g>
  <g id="n-pk13"><text class="t s" x="251" y="1027">A - S ≥ [0;360]</text><use href="#pkd" class="pk" x="251" y="1040"/><rect class="yl" x="243" y="1036" width="16" height="4"/><text class="t s" x="251" y="1039" fill="#b46504">давно от</text></g>
  <g id="n-pk14"><text class="t s"><tspan x="319" y="1024">A - Y ≥ [361;</tspan><tspan x="319" y="1027">1460]</tspan></text><use href="#pkd" class="pk" x="319" y="1040"/><rect class="yl" x="311" y="1036" width="16" height="4"/><text class="t s" x="319" y="1039" fill="#b46504">давно от</text></g>
  <g id="n-pk15"><text class="t s" x="385" y="1027">A - S ≥ [0;360]</text><use href="#pkd" class="pk" x="385" y="1040"/><rect class="yl" x="377" y="1036" width="16" height="4"/><text class="t s" x="385" y="1039" fill="#b46504">давно от</text></g>
  <g id="n-pk16"><text class="t s"><tspan x="453" y="1024">A - Y ≥ [361;</tspan><tspan x="453" y="1027">1460]</tspan></text><use href="#pkd" class="pk" x="453" y="1040"/><rect class="yl" x="445" y="1036" width="16" height="4"/><text class="t s" x="453" y="1039" fill="#b46504">давно от</text></g>
  <g id="n-pk17"><text class="t s" x="519" y="1027">A - S ≥ [0;360]</text><use href="#pkd" class="pk" x="519" y="1040"/><rect class="yl" x="511" y="1036" width="16" height="4"/><text class="t s" x="519" y="1039" fill="#b46504">давно от</text></g>
  <g id="n-pk18"><text class="t s"><tspan x="586" y="1024">A - Y ≥ [361;</tspan><tspan x="586" y="1027">1460]</tspan></text><use href="#pkd" class="pk" x="586" y="1040"/><rect class="yl" x="578" y="1036" width="16" height="4"/><text class="t s" x="586" y="1039" fill="#b46504">давно от</text></g>

  <!-- dual therapy blocks -->
  <g id="n-lb1"><use href="#hdr2" x="25" y="1123"/><text class="t" x="35.5" y="1129.2">аспирин</text><text class="t" x="64" y="1129.2">бессрочно</text><text class="t s"><tspan x="35.5" y="1140.5">ПОАК</tspan><tspan x="35.5" y="1143.5">(доза 2.5/2)</tspan></text><text class="t" x="64" y="1143">длительно</text><rect class="pu" x="25" y="1151" width="54" height="6"/><text class="t" x="52" y="1155.2">Двойная</text></g>
  <g id="n-lb2"><use href="#hdr2" x="92" y="1123"/><text class="t" x="102.5" y="1129.2">аспирин</text><text class="t" x="131" y="1129.2">бессрочно</text><text class="t s"><tspan x="102.5" y="1140.5">ПОАК</tspan><tspan x="102.5" y="1143.5">(доза 2.5/2)</tspan></text><rect x="117.5" y="1136" width="27.5" height="10" fill="#f8cecc"/><text class="t s"><tspan x="131" y="1140">(A - Y) дней на</tspan><tspan x="131" y="1143">длительный</tspan></text><rect class="pu" x="92" y="1151" width="54" height="6"/><text class="t" x="119" y="1155.2">Двойная</text><rect x="92" y="1110" width="23" height="11" fill="#e51400"/><text class="t w"><tspan x="103.5" y="1114.5">Красная</tspan><tspan x="103.5" y="1118.5">карточка</tspan></text></g>
  <g id="n-lb3"><use href="#hdr2" x="158" y="1123"/><text class="t" x="168.5" y="1129.2">аспирин</text><text class="t" x="197" y="1129.2">бессрочно</text><text class="t s"><tspan x="168.5" y="1140.5">ПОАК</tspan><tspan x="168.5" y="1143.5">(доза 2.5/2)</tspan></text><text class="t" x="197" y="1143">длительно</text><rect class="pu" x="158" y="1151" width="54" height="6"/><text class="t" x="185" y="1155.2">Двойная</text></g>
  <g id="n-lb4"><use href="#hdr2" x="225" y="1123"/><text class="t" x="235.5" y="1129.2">аспирин</text><text class="t" x="264" y="1129.2">бессрочно</text><text class="t s"><tspan x="235.5" y="1140.5">P2Y12</tspan><tspan x="235.5" y="1143.5">тика 60/2</tspan></text><rect x="250.5" y="1136" width="27.5" height="10" fill="#f8cecc"/><text class="t s"><tspan x="264" y="1139">через 360 - (A -</tspan><tspan x="264" y="1142">Y) дней на 3</tspan><tspan x="264" y="1145">года</tspan></text><rect class="pu" x="225" y="1151" width="54" height="6"/><text class="t" x="252" y="1155.2">Двойная</text><rect x="225" y="1110" width="23" height="11" fill="#e51400"/><text class="t w"><tspan x="236.5" y="1114.5">Красная</tspan><tspan x="236.5" y="1118.5">карточка</tspan></text></g>
  <g id="n-lb5"><use href="#hdr2" x="292" y="1123"/><text class="t" x="302.5" y="1129.2">аспирин</text><text class="t" x="331" y="1129.2">бессрочно</text><text class="t s"><tspan x="302.5" y="1140.5">P2Y12</tspan><tspan x="302.5" y="1143.5">тика 60/2</tspan></text><text class="t s"><tspan x="331" y="1140.5">на 1460 - (A -</tspan><tspan x="331" y="1143.5">Y) дней</tspan></text><rect class="pu" x="292" y="1151" width="54" height="6"/><text class="t" x="319" y="1155.2">Двойная</text></g>
  <g id="n-lb6"><use href="#hdr2" x="359" y="1123"/><text class="t" x="369.5" y="1129.2">аспирин</text><text class="t" x="398" y="1129.2">бессрочно</text><text class="t s"><tspan x="369.5" y="1140.5">P2Y12</tspan><tspan x="369.5" y="1143.5">клопи 75/1</tspan></text><rect x="384.5" y="1136" width="27.5" height="10" fill="#f8cecc"/><text class="t s"><tspan x="398" y="1140">(A - Y) дней на</tspan><tspan x="398" y="1143">длительный</tspan></text><rect class="pu" x="359" y="1151" width="54" height="6"/><text class="t" x="386" y="1155.2">Двойная</text><rect x="359" y="1110" width="23" height="11" fill="#e51400"/><text class="t w"><tspan x="370.5" y="1114.5">Красная</tspan><tspan x="370.5" y="1118.5">карточка</tspan></text></g>
  <g id="n-lb7"><use href="#hdr2" x="425" y="1123"/><text class="t" x="435.5" y="1129.2">аспирин</text><text class="t" x="464" y="1129.2">бессрочно</text><text class="t s"><tspan x="435.5" y="1140.5">P2Y12</tspan><tspan x="435.5" y="1143.5">клопи 75/1</tspan></text><text class="t" x="464" y="1143">длительно</text><rect class="pu" x="425" y="1151" width="54" height="6"/><text class="t" x="452" y="1155.2">Двойная</text></g>
  <g id="n-lb8"><use href="#hdr2" x="492" y="1123"/><text class="t" x="502.5" y="1129.2">аспирин</text><text class="t" x="531" y="1129.2">бессрочно</text><text class="t s"><tspan x="502.5" y="1140.5">P2Y12</tspan><tspan x="502.5" y="1143.5">прасу 10/1</tspan></text><rect x="517.5" y="1136" width="27.5" height="10" fill="#f8cecc"/><text class="t s"><tspan x="531" y="1140">(A - Y) дней на</tspan><tspan x="531" y="1143">длительный</tspan></text><rect class="pu" x="492" y="1151" width="54" height="6"/><text class="t" x="519" y="1155.2">Двойная</text><rect x="492" y="1110" width="23" height="11" fill="#e51400"/><text class="t w"><tspan x="503.5" y="1114.5">Красная</tspan><tspan x="503.5" y="1118.5">карточка</tspan></text></g>
  <g id="n-lb9"><use href="#hdr2" x="559" y="1123"/><text class="t" x="569.5" y="1129.2">аспирин</text><text class="t" x="598" y="1129.2">бессрочно</text><text class="t s"><tspan x="569.5" y="1140.5">P2Y12</tspan><tspan x="569.5" y="1143.5">прасу 10/1</tspan></text><text class="t" x="598" y="1143">длительно</text><rect class="pu" x="559" y="1151" width="54" height="6"/><text class="t" x="586" y="1155.2">Двойная</text></g>

  <g id="n-lmi"><rect class="pb" x="92" y="1161" width="521" height="21" rx="3"/><text class="t"><tspan x="352" y="1169">ИП</tspan><tspan x="352" y="1174">Инфаркт миокарда (?)</tspan></text></g>
  <g id="n-lcm1"><rect class="or" x="25" y="1229" width="187" height="13" rx="2"/><rect x="26.2" y="1236.5" width="184.6" height="4" fill="#fff"/><text class="t bd" x="118.5" y="1234">Комментарий</text></g>
  <g id="n-lth"><rect class="or" x="25" y="1248" width="588" height="9" rx="1.5"/><text class="t" x="319" y="1253.6">Тезисы (i)</text></g>
  <g id="n-ltx">
    <rect class="or" x="25" y="1262" width="187" height="9" rx="1.5"/><text class="t bd" x="118.5" y="1267.6">Текстовое заключение</text>
    <rect class="or" x="226" y="1262" width="120" height="9" rx="1.5"/><text class="t bd" x="286" y="1267.6">Текстовое заключение</text>
    <rect class="or" x="358" y="1262" width="120" height="9" rx="1.5"/><text class="t bd" x="418" y="1267.6">Текстовое заключение</text>
    <rect class="or" x="492" y="1262" width="121" height="9" rx="1.5"/><text class="t bd" x="552.5" y="1267.6">Текстовое заключение</text>
  </g>
</g>

<!-- lower section, high-risk branch details -->
<g id="lower-left">
  <g id="n-lr10"><rect class="ye" x="25" y="1161" width="54" height="21" rx="2"/><text class="t"><tspan x="52" y="1167">ЕОК IIa A</tspan><tspan x="52" y="1171">(УУР А, УДД 2</tspan><tspan x="52" y="1175">МЗ РФ ОКБС 2020)</tspan></text></g>
  <g id="n-lrecs">
    <rect class="ye" x="92" y="1184" width="54" height="21" rx="2"/><rect class="ye" x="158" y="1184" width="54" height="21" rx="2"/><rect class="ye" x="225" y="1184" width="54" height="21" rx="2"/><rect class="ye" x="292" y="1184" width="54" height="21" rx="2"/><rect class="ye" x="359" y="1184" width="54" height="21" rx="2"/><rect class="ye" x="425" y="1184" width="54" height="21" rx="2"/><rect class="ye" x="492" y="1184" width="54" height="21" rx="2"/><rect class="ye" x="559" y="1184" width="54" height="21" rx="2"/>
    <text class="t"><tspan x="119" y="1190">ВОК IIa A</tspan><tspan x="119" y="1194">(УУР А, УДД 2</tspan><tspan x="119" y="1198">МЗ РФ ОКБС 2020)</tspan></text>
    <text class="t"><tspan x="185" y="1190">ВОК IIa A</tspan><tspan x="185" y="1194">(УУР А, УДД 2</tspan><tspan x="185" y="1198">МЗ РФ ОКБС 2020)</tspan></text>
    <text class="t"><tspan x="252" y="1190">ВОК IIa A</tspan><tspan x="252" y="1194">(УУР В, УДД 2</tspan><tspan x="252" y="1198">МЗ РФ ОКБС 2020)</tspan></text>
    <text class="t"><tspan x="319" y="1190">ВОК IIa A</tspan><tspan x="319" y="1194">(УУР В, УДД 2</tspan><tspan x="319" y="1198">МЗ РФ ОКБС 2020)</tspan></text>
    <text class="t"><tspan x="386" y="1190">ВОК IIa A</tspan><tspan x="386" y="1194">(УУР В, УДД 2</tspan><tspan x="386" y="1198">МЗ РФ ОКБС 2020)</tspan></text>
    <text class="t"><tspan x="452" y="1190">ВОК IIa A</tspan><tspan x="452" y="1194">(УУР В, УДД 2</tspan><tspan x="452" y="1198">МЗ РФ ОКБС 2020)</tspan></text>
    <text class="t"><tspan x="519" y="1190">ВОК IIa A</tspan><tspan x="519" y="1194">(УУР В, УДД 2</tspan><tspan x="519" y="1198">МЗ РФ ОКБС 2020)</tspan></text>
    <text class="t"><tspan x="586" y="1190">ВОК IIa A</tspan><tspan x="586" y="1194">(УУР В, УДД 2</tspan><tspan x="586" y="1198">МЗ РФ ОКБС 2020)</tspan></text>
  </g>
  <g id="n-lpn">
    <text class="pn" x="52" y="1215">п/н 10</text><text class="pn" x="119" y="1215">п/н 11</text><text class="pn" x="185" y="1215">п/н 12</text><text class="pn" x="252" y="1215">п/н 13</text><text class="pn" x="319" y="1215">п/н 14</text><text class="pn" x="386" y="1215">п/н 15</text><text class="pn" x="452" y="1215">п/н 16</text><text class="pn" x="519" y="1215">п/н 17</text><text class="pn" x="586" y="1215">п/н 18</text>
  </g>
  <g id="n-lcm2"><rect class="pb" x="225" y="1229" width="388" height="13" rx="2"/><rect x="226.2" y="1236.5" width="385.6" height="4" fill="#fff"/><text class="t bd" x="419" y="1234">Комментарий</text></g>
  <g id="n-lnote"><rect x="92" y="1283" width="521" height="22" fill="#fff" stroke="#aaa" stroke-width="0.6" rx="1"/><text class="t" x="352" y="1294" font-style="italic" textLength="500" lengthAdjust="spacingAndGlyphs">Комментарий для короткой версии: "Пациент высокого риска ишемических событий. Рассмотреть назначение ДАТ на длительный срок (см. Доступные терапии согласно этих рекомендаций и доказательной медицины)." Цвет надписи - красный</text></g>
</g>

<!-- lower section, moderate-risk branch -->
<g id="lower-right" transform="translate(617.5,0) scale(1.02,1)">
  <use href="#lower-common"/>
  <g id="n-rr19"><rect class="orl" x="25" y="1161" width="54" height="21" rx="2"/><text class="t"><tspan x="52" y="1167">ЕОК IIb A</tspan><tspan x="52" y="1171">(УУР В, УДД 2</tspan><tspan x="52" y="1175">МЗ РФ ОКБС 2020)</tspan></text></g>
  <g id="n-rrecs">
    <rect class="orl" x="92" y="1184" width="54" height="21" rx="2"/><rect class="orl" x="158" y="1184" width="54" height="21" rx="2"/><rect class="orl" x="225" y="1184" width="54" height="21" rx="2"/><rect class="orl" x="292" y="1184" width="54" height="21" rx="2"/><rect class="orl" x="359" y="1184" width="54" height="21" rx="2"/><rect class="orl" x="425" y="1184" width="54" height="21" rx="2"/><rect class="orl" x="492" y="1184" width="54" height="21" rx="2"/><rect class="orl" x="559" y="1184" width="54" height="21" rx="2"/>
    <text class="t"><tspan x="119" y="1190">ВОК IIb A</tspan><tspan x="119" y="1194">(УУР В, УДД 2</tspan><tspan x="119" y="1198">МЗ РФ ОКБС 2020)</tspan></text>
    <text class="t"><tspan x="185" y="1190">ВОК IIb A</tspan><tspan x="185" y="1194">(УУР В, УДД 2</tspan><tspan x="185" y="1198">МЗ РФ ОКБС 2020)</tspan></text>
    <text class="t"><tspan x="252" y="1190">ВОК IIb A</tspan><tspan x="252" y="1194">(УУР В, УДД 2</tspan><tspan x="252" y="1198">МЗ РФ ОКБС 2020)</tspan></text>
    <text class="t"><tspan x="319" y="1190">ВОК IIb A</tspan><tspan x="319" y="1194">(УУР В, УДД 2</tspan><tspan x="319" y="1198">МЗ РФ ОКБС 2020)</tspan></text>
    <text class="t"><tspan x="386" y="1190">ВОК IIb A</tspan><tspan x="386" y="1194">(УУР В, УДД 2</tspan><tspan x="386" y="1198">МЗ РФ ОКБС 2020)</tspan></text>
    <text class="t"><tspan x="452" y="1190">ВОК IIb A</tspan><tspan x="452" y="1194">(УУР В, УДД 2</tspan><tspan x="452" y="1198">МЗ РФ ОКБС 2020)</tspan></text>
    <text class="t"><tspan x="519" y="1190">ВОК IIb A</tspan><tspan x="519" y="1194">(УУР В, УДД 2</tspan><tspan x="519" y="1198">МЗ РФ ОКБС 2020)</tspan></text>
    <text class="t"><tspan x="586" y="1190">ВОК IIb A</tspan><tspan x="586" y="1194">(УУР В, УДД 2</tspan><tspan x="586" y="1198">МЗ РФ ОКБС 2020)</tspan></text>
  </g>
  <g id="n-rpn">
    <text class="pn" x="52" y="1215">п/н 19</text><text class="pn" x="119" y="1215">п/н 20</text><text class="pn" x="185" y="1215">п/н 21</text><text class="pn" x="252" y="1215">п/н 22</text><text class="pn" x="319" y="1215">п/н 23</text><text class="pn" x="386" y="1215">п/н 24</text><text class="pn" x="452" y="1215">п/н 25</text><text class="pn" x="519" y="1215">п/н 26</text><text class="pn" x="586" y="1215">п/н 27</text>
  </g>
  <g id="n-rcm2"><rect class="pb" x="225" y="1229" width="388" height="19" rx="2"/><rect x="226.2" y="1235" width="385.6" height="11.5" fill="#fff"/><text class="t bd" x="419" y="1233.6">Комментарий</text><text class="t" x="419" y="1242">При отсутствии высокого риска фибрилляций + кровотечений на фоне ДАТ в течение года от ИМ</text></g>
  <g id="n-rnote"><rect x="92" y="1283" width="521" height="22" fill="#fff" stroke="#aaa" stroke-width="0.6" rx="1"/><text class="t" x="352" y="1294" font-style="italic" textLength="500" lengthAdjust="spacingAndGlyphs">Комментарий для короткой версии: "Пациент среднего риска ишемических событий. Рассмотреть назначение ДАТ на длительный срок (см. Доступные терапии согласно этих рекомендаций и доказательной медицины)." Цвет надписи - оранжевый</text></g>
</g>
</svg>
